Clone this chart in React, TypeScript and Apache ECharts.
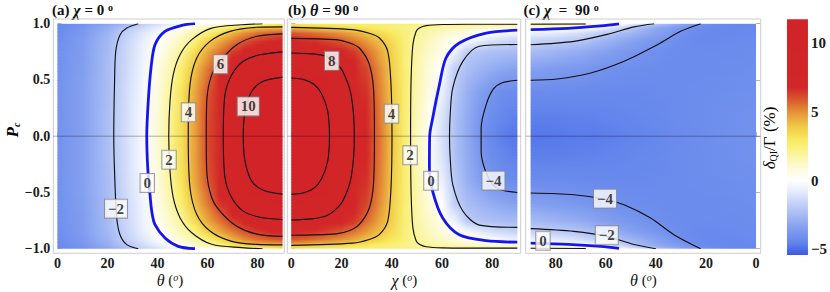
import React, { useEffect, useRef } from "react";
import * as echarts from "echarts";

// ---------- grid of read values ----------
const PC_ROWS = [-1, -0.97, -0.92, -0.85, -0.75, -0.6, -0.4, -0.2, 0, 0.2, 0.4, 0.6, 0.75, 0.85, 0.92, 0.97, 1];
const ANGLE_COLS = [0, 10, 20, 25, 30, 35, 40, 45, 50, 55, 60, 65, 70, 75, 80, 85, 90];
const X_TICKS = [0, 20, 40, 60, 80];
const PC_TICKS = [-1, -0.5, 0, 0.5, 1];
const BAR_TICKS = [-5, 0, 5, 10];
const BAR_RANGE = [-5.42, 11.75];

// panel (a): chi = 0, columns = theta
const FIELD_A = [
  [-4.4, -4.0, -3.3, -2.85, -2.3, -1.75, -1.3, -0.85, -0.4, 0.0, 0.4, 0.8, 1.2, 1.55, 1.85, 2.4, 3.0],
  [-4.35, -3.85, -3.0, -2.4, -1.85, -1.3, -0.75, -0.15, 0.4, 1.0, 1.6, 2.2, 2.9, 3.6, 4.05, 4.15, 4.2],
  [-4.25, -3.7, -2.75, -2.05, -1.45, -0.85, -0.3, 0.35, 1.0, 1.65, 2.45, 3.4, 4.3, 5.0, 5.5, 5.8, 5.95],
  [-4.15, -3.6, -2.6, -1.9, -1.25, -0.6, 0.05, 0.8, 1.5, 2.4, 3.7, 4.55, 5.3, 6.0, 6.4, 6.7, 6.9],
  [-4.1, -3.55, -2.5, -1.8, -1.15, -0.45, 0.3, 1.15, 2.05, 3.4, 4.55, 5.5, 6.4, 7.0, 7.5, 7.8, 8.0],
  [-4.05, -3.5, -2.45, -1.75, -1.05, -0.35, 0.55, 1.55, 2.8, 4.1, 5.35, 6.55, 7.65, 8.4, 8.9, 9.2, 9.4],
  [-4.0, -3.45, -2.4, -1.68, -0.95, -0.25, 0.75, 1.9, 3.2, 4.6, 5.9, 7.3, 8.5, 9.5, 10.25, 10.75, 11.0],
  [-4.0, -3.45, -2.37, -1.62, -0.88, -0.15, 0.88, 2.05, 3.35, 4.7, 6.1, 7.55, 8.95, 10.05, 10.8, 11.25, 11.5],
  [-4.0, -3.45, -2.35, -1.6, -0.85, -0.1, 0.95, 2.1, 3.4, 4.7, 6.15, 7.6, 9.0, 10.15, 10.95, 11.45, 11.7],
  [-4.0, -3.45, -2.37, -1.62, -0.88, -0.15, 0.88, 2.05, 3.35, 4.7, 6.1, 7.55, 8.95, 10.05, 10.8, 11.25, 11.5],
  [-4.0, -3.45, -2.4, -1.68, -0.95, -0.25, 0.75, 1.9, 3.2, 4.6, 5.9, 7.3, 8.5, 9.5, 10.25, 10.75, 11.0],
  [-4.05, -3.5, -2.45, -1.75, -1.05, -0.35, 0.55, 1.55, 2.8, 4.1, 5.35, 6.55, 7.65, 8.4, 8.9, 9.2, 9.4],
  [-4.1, -3.55, -2.5, -1.8, -1.15, -0.45, 0.3, 1.15, 2.05, 3.4, 4.55, 5.5, 6.4, 7.0, 7.5, 7.8, 8.0],
  [-4.15, -3.6, -2.6, -1.9, -1.25, -0.6, 0.05, 0.8, 1.5, 2.4, 3.7, 4.55, 5.3, 6.0, 6.4, 6.7, 6.9],
  [-4.25, -3.7, -2.75, -2.05, -1.45, -0.85, -0.3, 0.35, 1.0, 1.65, 2.45, 3.4, 4.3, 5.0, 5.5, 5.8, 5.95],
  [-4.35, -3.85, -3.0, -2.4, -1.85, -1.3, -0.75, -0.15, 0.4, 1.0, 1.6, 2.2, 2.9, 3.6, 4.05, 4.15, 4.2],
  [-4.4, -4.0, -3.3, -2.85, -2.3, -1.75, -1.3, -0.85, -0.4, 0.0, 0.4, 0.8, 1.2, 1.55, 1.85, 2.4, 3.0],
];

// panel (b): theta = 90, columns = chi
const FIELD_B = [
  [3.0, 2.9, 2.8, 2.75, 2.7, 2.65, 2.6, 2.55, 2.5, 2.45, 2.4, 2.4, 2.35, 2.35, 2.3, 2.3, 2.3],
  [4.2, 3.8, 3.4, 3.15, 2.95, 2.7, 2.45, 2.25, 2.1, 1.9, 1.75, 1.6, 1.45, 1.3, 1.15, 1.0, 0.9],
  [5.95, 5.5, 4.9, 4.5, 4.0, 3.5, 3.0, 2.45, 1.95, 1.6, 1.25, 0.9, 0.6, 0.25, -0.1, -0.35, -0.55],
  [6.9, 6.5, 5.9, 5.4, 4.8, 4.15, 3.4, 2.55, 1.85, 1.35, 0.85, 0.35, -0.25, -0.75, -1.15, -1.4, -1.6],
  [8.0, 7.7, 7.0, 6.5, 5.6, 4.65, 3.7, 2.6, 1.75, 1.15, 0.55, -0.5, -1.9, -2.15, -2.3, -2.42, -2.5],
  [9.4, 9.0, 7.9, 7.1, 6.25, 5.1, 3.8, 2.65, 1.65, 0.85, 0.0, -1.75, -2.35, -2.7, -3.0, -3.25, -3.4],
  [11.0, 10.15, 8.6, 7.7, 6.6, 5.3, 3.95, 2.7, 1.6, 0.6, -0.6, -1.95, -2.85, -3.45, -3.95, -4.15, -4.25],
  [11.5, 10.6, 8.95, 7.95, 6.75, 5.45, 4.0, 2.7, 1.45, 0.35, -1.0, -2.2, -3.0, -3.75, -4.2, -4.45, -4.6],
  [11.7, 10.85, 9.05, 8.0, 6.8, 5.5, 4.05, 2.7, 1.35, 0.05, -1.2, -2.25, -3.1, -3.95, -4.4, -4.7, -4.8],
  [11.5, 10.6, 8.95, 7.95, 6.75, 5.45, 4.0, 2.7, 1.45, 0.35, -1.0, -2.2, -3.0, -3.75, -4.2, -4.45, -4.6],
  [11.0, 10.15, 8.6, 7.7, 6.6, 5.3, 3.95, 2.7, 1.6, 0.6, -0.6, -1.95, -2.85, -3.45, -3.95, -4.15, -4.25],
  [9.4, 9.0, 7.9, 7.1, 6.25, 5.1, 3.8, 2.65, 1.65, 0.85, 0.0, -1.75, -2.35, -2.7, -3.0, -3.25, -3.4],
  [8.0, 7.7, 7.0, 6.5, 5.6, 4.65, 3.7, 2.6, 1.75, 1.15, 0.55, -0.5, -1.9, -2.15, -2.3, -2.42, -2.5],
  [6.9, 6.5, 5.9, 5.4, 4.8, 4.15, 3.4, 2.55, 1.85, 1.35, 0.85, 0.35, -0.25, -0.75, -1.15, -1.4, -1.6],
  [5.95, 5.5, 4.9, 4.5, 4.0, 3.5, 3.0, 2.45, 1.95, 1.6, 1.25, 0.9, 0.6, 0.25, -0.1, -0.35, -0.55],
  [4.2, 3.8, 3.4, 3.15, 2.95, 2.7, 2.45, 2.25, 2.1, 1.9, 1.75, 1.6, 1.45, 1.3, 1.15, 1.0, 0.9],
  [3.0, 2.9, 2.8, 2.75, 2.7, 2.65, 2.6, 2.55, 2.5, 2.45, 2.4, 2.4, 2.35, 2.35, 2.3, 2.3, 2.3],
];

// panel (c): chi = 90, columns = theta
const FIELD_C = [
  [-4.4, -4.4, -4.15, -3.7, -3.15, -2.6, -2.05, -1.35, -0.65, 0.05, 0.7, 1.4, 2.0, 2.05, 2.1, 2.2, 2.3],
  [-4.35, -4.4, -4.3, -4.05, -3.7, -3.4, -3.05, -2.6, -2.0, -1.2, -0.6, -0.15, 0.1, 0.3, 0.5, 0.7, 0.9],
  [-4.3, -4.35, -4.35, -4.25, -4.05, -3.7, -3.35, -3.0, -2.65, -2.3, -1.93, -1.55, -1.25, -1.0, -0.8, -0.65, -0.55],
  [-4.25, -4.3, -4.32, -4.3, -4.2, -4.05, -3.85, -3.6, -3.35, -3.05, -2.75, -2.4, -2.1, -1.93, -1.8, -1.7, -1.6],
  [-4.2, -4.25, -4.28, -4.27, -4.25, -4.2, -4.1, -3.98, -3.8, -3.65, -3.45, -3.25, -3.05, -2.9, -2.75, -2.6, -2.5],
  [-4.15, -4.2, -4.25, -4.25, -4.25, -4.25, -4.22, -4.2, -4.15, -4.1, -4.02, -3.92, -3.8, -3.7, -3.6, -3.5, -3.4],
  [-4.1, -4.15, -4.2, -4.22, -4.25, -4.28, -4.3, -4.32, -4.33, -4.33, -4.32, -4.31, -4.3, -4.28, -4.27, -4.26, -4.25],
  [-4.05, -4.1, -4.15, -4.2, -4.25, -4.3, -4.35, -4.4, -4.45, -4.5, -4.52, -4.55, -4.57, -4.58, -4.6, -4.6, -4.6],
  [-4.05, -4.1, -4.2, -4.25, -4.3, -4.35, -4.45, -4.5, -4.55, -4.6, -4.65, -4.7, -4.72, -4.75, -4.78, -4.8, -4.8],
  [-4.05, -4.1, -4.15, -4.2, -4.25, -4.3, -4.35, -4.4, -4.45, -4.5, -4.52, -4.55, -4.57, -4.58, -4.6, -4.6, -4.6],
  [-4.1, -4.15, -4.2, -4.22, -4.25, -4.28, -4.3, -4.32, -4.33, -4.33, -4.32, -4.31, -4.3, -4.28, -4.27, -4.26, -4.25],
  [-4.15, -4.2, -4.25, -4.25, -4.25, -4.25, -4.22, -4.2, -4.15, -4.1, -4.02, -3.92, -3.8, -3.7, -3.6, -3.5, -3.4],
  [-4.2, -4.25, -4.28, -4.27, -4.25, -4.2, -4.1, -3.98, -3.8, -3.65, -3.45, -3.25, -3.05, -2.9, -2.75, -2.6, -2.5],
  [-4.25, -4.3, -4.32, -4.3, -4.2, -4.05, -3.85, -3.6, -3.35, -3.05, -2.75, -2.4, -2.1, -1.93, -1.8, -1.7, -1.6],
  [-4.3, -4.35, -4.35, -4.25, -4.05, -3.7, -3.35, -3.0, -2.65, -2.3, -1.93, -1.55, -1.25, -1.0, -0.8, -0.65, -0.55],
  [-4.35, -4.4, -4.3, -4.05, -3.7, -3.4, -3.05, -2.6, -2.0, -1.2, -0.6, -0.15, 0.1, 0.3, 0.5, 0.7, 0.9],
  [-4.4, -4.4, -4.15, -3.7, -3.15, -2.6, -2.05, -1.35, -0.65, 0.05, 0.7, 1.4, 2.0, 2.05, 2.1, 2.2, 2.3],
];

// ---------- contour lines: [angle, Pc] ----------
const A_LEVEL_M2 = [[32.3, 1], [27.7, 0.961], [25, 0.9], [23.3, 0.754], [22.8, 0.46], [22.5, 0], [23, -0.43], [23.7, -0.727], [25, -0.876], [27.7, -0.964], [32.3, -1]];
const A_LEVEL_0 = [[55, 1], [49.7, 0.985], [43, 0.932], [39, 0.813], [37.4, 0.606], [36.3, 0.31], [35.7, 0], [36.1, -0.283], [37, -0.52], [37.7, -0.668], [39, -0.787], [43, -0.905], [48.3, -0.979], [55, -1]];
const A_LEVEL_2 = [[82, 1], [73.7, 0.991], [61.7, 0.961], [53.7, 0.858], [49, 0.724], [46.3, 0.547], [45, 0.31], [44.5, 0], [45, -0.31], [46.3, -0.547], [49, -0.724], [53.7, -0.858], [61.7, -0.961], [73.7, -0.991], [82, -1]];
const A_LEVEL_4 = [[90, 0.972], [79.7, 0.968], [69, 0.932], [61, 0.843], [55.7, 0.695], [53, 0.458], [52.3, 0], [53, -0.458], [55.7, -0.695], [61, -0.843], [69, -0.93], [79.7, -0.962], [90, -0.966]];
const A_LEVEL_6 = [[90, 0.91], [79.7, 0.888], [71.7, 0.813], [65.5, 0.68], [61.7, 0.547], [59.7, 0.31], [59.5, 0], [59.7, -0.31], [61.7, -0.547], [65.5, -0.68], [71.7, -0.8], [79.7, -0.87], [90, -0.89]];
const A_LEVEL_8 = [[90, 0.75], [81, 0.724], [74.3, 0.666], [69.7, 0.547], [67, 0.369], [66.3, 0], [67, -0.369], [69.7, -0.547], [74.3, -0.666], [81, -0.72], [90, -0.74]];
const A_LEVEL_10 = [[90, 0.525], [82.3, 0.488], [77.7, 0.399], [75, 0.221], [74.3, 0], [75, -0.221], [77.7, -0.399], [82.3, -0.48], [90, -0.515]];

const B_LEVEL_10 = [[0, 0.517], [5, 0.503], [9, 0.462], [12, 0.38], [14.5, 0.22], [15.2, 0], [14.5, -0.22], [12, -0.38], [9, -0.462], [5, -0.503], [0, -0.517]];
const B_LEVEL_8 = [[0, 0.74], [8, 0.732], [13.8, 0.71], [17.5, 0.655], [20.5, 0.576], [23.8, 0.37], [25.1, 0], [23.8, -0.37], [20.5, -0.576], [17.5, -0.655], [13.8, -0.71], [8, -0.735], [0, -0.745]];
const B_LEVEL_6 = [[0, 0.87], [17.8, 0.858], [23, 0.83], [27.1, 0.784], [31.1, 0.636], [32.8, 0.4], [33.1, 0], [32.8, -0.4], [31.1, -0.636], [27.1, -0.784], [23, -0.84], [17.8, -0.868], [0, -0.88]];
const B_LEVEL_4 = [[0, 0.967], [24.4, 0.947], [31, 0.915], [35.1, 0.873], [38.4, 0.754], [39.7, 0.458], [40.1, 0], [39.7, -0.458], [38.4, -0.754], [35.1, -0.873], [31, -0.918], [24.4, -0.95], [0, -0.97]];
const B_LEVEL_2 = [[90, 0.995], [70, 0.995], [60.3, 0.993], [53.7, 0.983], [51, 0.961], [49.7, 0.93], [48.4, 0.81], [47.7, 0.5], [47.5, 0], [47.7, -0.5], [48.4, -0.81], [49.7, -0.93], [51, -0.961], [53.7, -0.983], [60.3, -0.993], [70, -0.995], [90, -0.995]];
const B_LEVEL_0 = [[90, 0.942], [77.6, 0.917], [66.9, 0.828], [61.6, 0.695], [59, 0.458], [56.3, 0.16], [55.1, 0], [55, -0.28], [56.3, -0.49], [60.3, -0.727], [66.9, -0.876], [77.6, -0.929], [90, -0.942]];
const B_LEVEL_M2 = [[90, 0.815], [74.9, 0.8], [68.3, 0.665], [64.3, 0.43], [63.3, 0.2], [63, 0], [63.3, -0.2], [64.3, -0.43], [68.3, -0.665], [74.9, -0.79], [90, -0.81]];
const B_LEVEL_M4 = [[90, 0.497], [84, 0.475], [80.5, 0.42], [77.6, 0.28], [75.6, 0.07], [75.6, -0.13], [76.9, -0.283], [80.2, -0.431], [84, -0.48], [90, -0.5]];

const C_LEVEL_M4_TOP = [[90, 0.497], [79.4, 0.508], [66, 0.562], [52.7, 0.666], [39.4, 0.813], [30.1, 0.932], [22.1, 1]];
const C_LEVEL_M4_BOT = [[90, -0.505], [72.7, -0.52], [60.3, -0.56], [52.7, -0.609], [42.1, -0.727], [32.8, -0.875], [22.1, -1]];
const C_LEVEL_M2_TOP = [[90, 0.813], [72.7, 0.843], [59.4, 0.905], [48.7, 0.972], [40.7, 1]];
const C_LEVEL_M2_BOT = [[90, -0.822], [72.7, -0.846], [59.6, -0.89], [48.7, -0.963], [40, -1]];
const C_LEVEL_0_TOP = [[90, 0.947], [75, 0.958], [62, 0.98], [54.7, 0.998]];
const C_LEVEL_0_BOT = [[90, -0.95], [75, -0.962], [62, -0.98], [54.7, -0.998]];
const C_LEVEL_2_TOP = [[90, 0.996], [68, 0.998]];
const C_LEVEL_2_BOT = [[90, -0.996], [68, -0.998]];

const A_CONTOURS = [
  { level: -2, pts: A_LEVEL_M2 }, { level: 0, pts: A_LEVEL_0 }, { level: 2, pts: A_LEVEL_2 },
  { level: 4, pts: A_LEVEL_4 }, { level: 6, pts: A_LEVEL_6 }, { level: 8, pts: A_LEVEL_8 }, { level: 10, pts: A_LEVEL_10 },
];
const B_CONTOURS = [
  { level: 10, pts: B_LEVEL_10 }, { level: 8, pts: B_LEVEL_8 }, { level: 6, pts: B_LEVEL_6 }, { level: 4, pts: B_LEVEL_4 },
  { level: 2, pts: B_LEVEL_2 }, { level: 0, pts: B_LEVEL_0 }, { level: -2, pts: B_LEVEL_M2 }, { level: -4, pts: B_LEVEL_M4 },
];
const C_CONTOURS = [
  { level: -4, pts: C_LEVEL_M4_TOP }, { level: -4, pts: C_LEVEL_M4_BOT }, { level: -2, pts: C_LEVEL_M2_TOP },
  { level: -2, pts: C_LEVEL_M2_BOT }, { level: 2, pts: C_LEVEL_2_TOP }, { level: 2, pts: C_LEVEL_2_BOT },
  { level: 0, pts: C_LEVEL_0_TOP }, { level: 0, pts: C_LEVEL_0_BOT },
];

// contour labels: [angle, Pc]
const A_LABELS = [
  { text: "\u22122", pos: [23.4, -0.644] }, { text: "0", pos: [35.9, -0.416] }, { text: "2", pos: [44.6, -0.209] },
  { text: "4", pos: [52.4, 0.212] }, { text: "6", pos: [65.2, 0.64] }, { text: "10", pos: [76.3, 0.265] },
];
const B_LABELS = [
  { text: "8", pos: [16.1, 0.67] }, { text: "4", pos: [39.9, 0.2] }, { text: "2", pos: [47.3, -0.17] },
  { text: "0", pos: [55.6, -0.396] }, { text: "\u22124", pos: [80.5, -0.395] },
];
const C_LABELS = [
  { text: "\u22124", pos: [60.3, -0.555] }, { text: "\u22122", pos: [59.6, -0.88] }, { text: "0", pos: [85.1, -0.929] },
];

// ---------- styling ----------
const FONT = "Liberation Serif, Times New Roman, serif";
const COLOR_ANCHORS = [
  [-5.5, 55, 85, 230],
  [-4.5, 100, 134, 236],
  [-3.5, 130, 158, 239],
  [-2.5, 166, 186, 244],
  [-1.5, 202, 214, 248],
  [-0.6, 236, 241, 253],
  [0, 255, 255, 255],
  [1, 252, 250, 212],
  [2, 250, 244, 150],
  [3, 248, 234, 92],
  [4, 240, 198, 70],
  [5, 228, 145, 55],
  [6, 216, 82, 45],
  [6.8, 210, 38, 40],
  [12, 210, 35, 40],
];

function valueColor(v: number): string {
  const a = COLOR_ANCHORS;
  if (v <= a[0][0]) return `rgb(${a[0][1]},${a[0][2]},${a[0][3]})`;
  for (let i = 1; i < a.length; i++) {
    if (v <= a[i][0]) {
      const t = (v - a[i - 1][0]) / (a[i][0] - a[i - 1][0]);
      const c = [1, 2, 3].map((k) => Math.round(a[i - 1][k] + (a[i][k] - a[i - 1][k]) * t));
      return `rgb(${c[0]},${c[1]},${c[2]})`;
    }
  }
  const l = a[a.length - 1];
  return `rgb(${l[1]},${l[2]},${l[3]})`;
}

const GRIDS = [
  { left: 57.5, top: 23.7, width: 225, height: 225 },
  { left: 291.3, top: 23.7, width: 226, height: 225 },
  { left: 530.7, top: 23.7, width: 225.3, height: 225 },
  { left: 787, top: 19.3, width: 24, height: 235.7 },
];
const FRAMES = [
  [53.3, 19, 231, 234.3],
  [287.3, 19, 233.4, 234.3],
  [525.7, 19, 235, 234.3],
];

function shadeSeries(field: number[][], gi: number) {
  const n = PC_ROWS.length;
  const m = ANGLE_COLS.length;
  return {
    type: "custom",
    xAxisIndex: gi,
    yAxisIndex: gi,
    z: 1,
    silent: true,
    clip: true,
    data: PC_ROWS.slice(0, n - 1).map((p, i) => [45, p, i]),
    renderItem: (_params: any, api: any) => {
      const i = api.value(2);
      const lo = PC_ROWS[i];
      const hi = PC_ROWS[i + 1];
      const xA = api.coord([ANGLE_COLS[0], lo])[0];
      const xB = api.coord([ANGLE_COLS[m - 1], lo])[0];
      const yLo = api.coord([45, lo])[1];
      const yHi = api.coord([45, hi])[1];
      const steps = Math.max(1, Math.ceil((yLo - yHi) / 1.5));
      const children: any[] = [];
      for (let k = 0; k < steps; k++) {
        const t = (k + 0.5) / steps;
        const stops = ANGLE_COLS.map((a, j) => ({
          offset: (a - ANGLE_COLS[0]) / (ANGLE_COLS[m - 1] - ANGLE_COLS[0]),
          color: valueColor(field[i][j] * (1 - t) + field[i + 1][j] * t),
        }));
        const y0 = yLo - ((yLo - yHi) * k) / steps;
        const y1 = yLo - ((yLo - yHi) * (k + 1)) / steps;
        children.push({
          type: "rect",
          shape: { x: Math.min(xA, xB), y: y1 - 0.4, width: Math.abs(xB - xA), height: y0 - y1 + 0.8 },
          style: { fill: new echarts.graphic.LinearGradient(xA < xB ? 0 : 1, 0, xA < xB ? 1 : 0, 0, stops) },
        });
      }
      return { type: "group", children };
    },
  };
}

function contourSeries(contours: { level: number; pts: number[][] }[], gi: number) {
  return contours.map((c) => ({
    type: "line",
    xAxisIndex: gi,
    yAxisIndex: gi,
    data: c.pts,
    showSymbol: false,
    symbol: "none",
    smooth: 0.3,
    silent: true,
    z: 3,
    lineStyle: c.level === 0 ? { color: "#1515f2", width: 2.8 } : { color: "#111", width: 1.15 },
  }));
}

function labelSeries(labels: { text: string; pos: number[] }[], gi: number) {
  return {
    type: "scatter",
    xAxisIndex: gi,
    yAxisIndex: gi,
    z: 6,
    silent: true,
    symbol: "circle",
    symbolSize: 0.1,
    itemStyle: { color: "transparent" },
    data: labels.map((l) => ({ value: l.pos, name: l.text })),
    label: {
      show: true,
      position: "inside",
      formatter: "{b}",
      fontFamily: FONT,
      fontWeight: "bold",
      fontSize: 15,
      color: "#111",
      backgroundColor: "#ffffff",
      borderColor: "#8a8a8a",
      borderWidth: 1,
      padding: [2, 3, 1, 3],
      lineHeight: 15,
    },
  };
}

const tickLabelStyle = { fontFamily: FONT, fontWeight: "bold", fontSize: 14, color: "#1a1a1a", lineHeight: 14 };

function buildOption(): any {
  const xAxes: any[] = [0, 1, 2].map((gi) => ({
    type: "value",
    gridIndex: gi,
    min: 0,
    max: 90,
    inverse: gi === 2,
    offset: 4.6,
    axisLine: { show: false },
    axisTick: { show: true, inside: true, length: 4, lineStyle: { color: "#b5b5b5" }, customValues: X_TICKS },
    axisLabel: { ...tickLabelStyle, margin: 3, customValues: X_TICKS },
    splitLine: { show: false },
  }));
  xAxes.push({ type: "value", gridIndex: 3, min: 0, max: 1, show: false });
  const yOffsets = [4.2, 4, 5];
  const yAxes: any[] = [0, 1, 2].map((gi) => ({
    type: "value",
    gridIndex: gi,
    min: -1,
    max: 1,
    offset: yOffsets[gi],
    axisLine: { show: false },
    axisTick: { show: true, inside: true, length: 4, lineStyle: { color: "#b5b5b5" }, customValues: PC_TICKS },
    axisLabel: {
      show: gi === 0,
      ...tickLabelStyle,
      margin: 3,
      customValues: PC_TICKS,
      formatter: (v: number) => (v < 0 ? "\u2212" : "") + Math.abs(v).toFixed(1),
    },
    splitLine: { show: false },
  }));
  yAxes.push({
    type: "value",
    gridIndex: 3,
    min: BAR_RANGE[0],
    max: BAR_RANGE[1],
    position: "right",
    axisLine: { show: false },
    axisTick: { show: false },
    splitLine: { show: false },
    axisLabel: {
      ...tickLabelStyle,
      fontSize: 15,
      margin: 3,
      customValues: BAR_TICKS,
      formatter: (v: number) => (v < 0 ? "\u2212" : "") + Math.abs(v),
    },
  });

  const barStops: any[] = [];
  const nb = 80;
  for (let k = 0; k <= nb; k++) {
    const v = BAR_RANGE[1] - ((BAR_RANGE[1] - BAR_RANGE[0]) * k) / nb;
    barStops.push({ offset: k / nb, color: valueColor(v) });
  }

  const series: any[] = [
    shadeSeries(FIELD_A, 0),
    shadeSeries(FIELD_B, 1),
    shadeSeries(FIELD_C, 2),
    ...contourSeries(A_CONTOURS, 0),
    ...contourSeries(B_CONTOURS, 1),
    ...contourSeries(C_CONTOURS, 2),
    labelSeries(A_LABELS, 0),
    labelSeries(B_LABELS, 1),
    labelSeries(C_LABELS, 2),
    {
      type: "custom",
      xAxisIndex: 3,
      yAxisIndex: 3,
      silent: true,
      data: [[0.5, 0]],
      renderItem: (_p: any, api: any) => {
        const a = api.coord([0, BAR_RANGE[1]]);
        const b = api.coord([1, BAR_RANGE[0]]);
        return {
          type: "rect",
          shape: { x: a[0], y: a[1], width: b[0] - a[0], height: b[1] - a[1] },
          style: { fill: new echarts.graphic.LinearGradient(0, 0, 0, 1, barStops) },
        };
      },
    },
  ];

  const richBase = { fontFamily: FONT, fontWeight: "bold", fontSize: 15, fill: "#111" };
  const zeroY = GRIDS[0].top + GRIDS[0].height / 2;
  const graphic: any[] = [];
  FRAMES.forEach((f) => {
    graphic.push({
      type: "rect",
      z: 50,
      silent: true,
      shape: { x: f[0], y: f[1], width: f[2], height: f[3] },
      style: { fill: "none", stroke: "#cdcdcd", lineWidth: 1 },
    });
    graphic.push({
      type: "line",
      z: 50,
      silent: true,
      shape: { x1: f[0], y1: zeroY, x2: f[0] + f[2], y2: zeroY },
      style: { stroke: "rgba(0,0,0,0.3)", lineWidth: 1 },
    });
  });
  const titles = [
    { x: 52, text: "(a) {i|\u03c7} = 0 {s|o}" },
    { x: 288, text: "(b) {i|\u03b8} = 90 {s|o}" },
    { x: 523.5, text: "(c) {i|\u03c7}  =  90 {s|o}" },
  ];
  titles.forEach((t) => {
    graphic.push({
      type: "text",
      x: t.x,
      y: 10,
      silent: true,
      style: {
        text: t.text,
        ...richBase,
        verticalAlign: "middle",
        rich: {
          i: { fontFamily: FONT, fontWeight: "bold", fontStyle: "italic", fontSize: 16, lineHeight: 16 },
          s: { fontFamily: FONT, fontWeight: "bold", fontSize: 10, verticalAlign: "top", lineHeight: 16 },
        },
      },
    });
  });
  const axisNames = [
    { gi: 0, sym: "\u03b8" },
    { gi: 1, sym: "\u03c7" },
    { gi: 2, sym: "\u03b8" },
  ];
  axisNames.forEach((a) => {
    const g = GRIDS[a.gi];
    graphic.push({
      type: "text",
      x: g.left + g.width / 2,
      y: 280,
      silent: true,
      style: {
        text: `{i|${a.sym}} ({s|o})`,
        fontFamily: FONT,
        fontSize: 15,
        fill: "#111",
        align: "center",
        verticalAlign: "middle",
        rich: {
          i: { fontFamily: FONT, fontStyle: "italic", fontSize: 16, lineHeight: 15 },
          s: { fontFamily: FONT, fontStyle: "italic", fontSize: 10, verticalAlign: "top", lineHeight: 15 },
        },
      },
    });
  });
  graphic.push({
    type: "text",
    x: 12,
    y: 130,
    rotation: Math.PI / 2,
    silent: true,
    style: {
      text: "{p|P}{c|c}",
      align: "center",
      verticalAlign: "middle",
      rich: {
        p: { fontFamily: FONT, fontWeight: "bold", fontStyle: "italic", fontSize: 17, lineHeight: 18 },
        c: { fontFamily: FONT, fontWeight: "bold", fontStyle: "italic", fontSize: 10, verticalAlign: "bottom", lineHeight: 18 },
      },
    },
  });
  graphic.push({
    type: "text",
    x: 769,
    y: 138,
    rotation: Math.PI / 2,
    silent: true,
    style: {
      text: "{d|\u03b4}{q|QI}{n|/\u0393 (%)}",
      align: "center",
      verticalAlign: "middle",
      rich: {
        d: { fontFamily: FONT, fontStyle: "italic", fontSize: 17, lineHeight: 18 },
        q: { fontFamily: FONT, fontSize: 10, verticalAlign: "bottom", lineHeight: 18 },
        n: { fontFamily: FONT, fontSize: 17, lineHeight: 18 },
      },
    },
  });

  return {
    animation: false,
    backgroundColor: "#fff",
    textStyle: { fontFamily: FONT },
    grid: GRIDS.map((g) => ({ ...g, containLabel: false })),
    xAxis: xAxes,
    yAxis: yAxes,
    series,
    graphic,
  };
}

export default function App() {
  const ref = useRef<HTMLDivElement>(null);
  useEffect(() => {
    if (!ref.current) return;
    const chart = echarts.init(ref.current, null, { renderer: "svg" });
    chart.setOption(buildOption());
    return () => chart.dispose();
  }, []);
  return (
    <div
      ref={ref}
      style={{ position: "fixed", left: 0, top: 0, width: 830, height: 292, background: "#fff" }}
    />
  );
}
